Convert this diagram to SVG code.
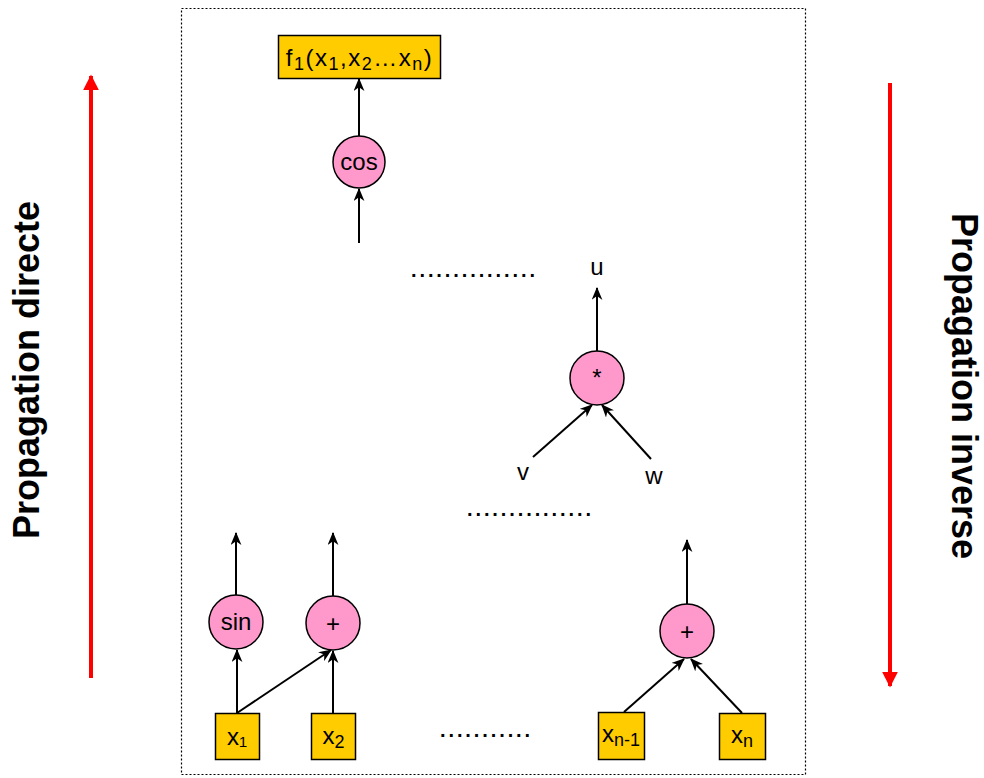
<svg xmlns="http://www.w3.org/2000/svg" width="984" height="778" viewBox="0 0 984 778">
<style>
.box{fill:#FFCC00;stroke:#000;stroke-width:1.5}
.op{fill:#FF99CC;stroke:#000;stroke-width:1.5}
.t{font-family:"Liberation Sans",Arial,sans-serif;font-size:24px;fill:#000}
.e{stroke:#000;stroke-width:2;fill:none;marker-end:url(#ah)}
.r{stroke:#FF0000;stroke-width:4;fill:none}
.dots{font-family:"Liberation Sans",Arial,sans-serif;font-size:20px;font-weight:bold;letter-spacing:2.9px;fill:#000}
.big{font-family:"Liberation Sans",Arial,sans-serif;font-size:36px;font-weight:bold;fill:#000}
</style>
<defs>
<marker id="ah" viewBox="0 0 12 10" refX="11" refY="5" markerWidth="13" markerHeight="11" orient="auto" markerUnits="userSpaceOnUse">
<path d="M0,0 L12,5 L0,10 L3.5,5 z" fill="#000"/>
</marker>
<marker id="rh" viewBox="0 0 10 10" refX="9" refY="5" markerWidth="4" markerHeight="4" orient="auto">
<path d="M0,0 L10,5 L0,10 z" fill="#FF0000"/>
</marker>
</defs>
<rect width="984" height="778" fill="#fff"/>
<rect id="frame" x="181.5" y="8.5" width="624" height="766" fill="none" stroke="#000" stroke-width="1.2" stroke-dasharray="2 2"/>

<g id="connectors">
<line class="e" x1="359" y1="136" x2="359" y2="79"/>
<line class="e" x1="359" y1="243" x2="359" y2="189"/>
<line class="e" x1="597" y1="351" x2="597" y2="288"/>
<line class="e" x1="533" y1="457" x2="592" y2="405"/>
<line class="e" x1="651" y1="459" x2="602" y2="405"/>
<line class="e" x1="236" y1="595" x2="236" y2="533"/>
<line class="e" x1="333" y1="596" x2="333" y2="533"/>
<line class="e" x1="237" y1="713" x2="237" y2="650"/>
<line class="e" x1="237" y1="713" x2="331" y2="650"/>
<line class="e" x1="333" y1="713" x2="333" y2="651"/>
<line class="e" x1="687" y1="604" x2="687" y2="540"/>
<line class="e" x1="624" y1="712" x2="684" y2="659"/>
<line class="e" x1="742" y1="713" x2="691" y2="659"/>
</g>

<g id="f1">
<rect class="box" x="278.5" y="35.5" width="162" height="43"/>
<text class="t" x="359.5" y="66" text-anchor="middle" font-size="26" letter-spacing="1.5">f<tspan font-size="18" dy="4">1</tspan><tspan dy="-4">(x</tspan><tspan font-size="18" dy="4">1</tspan><tspan dy="-4">,x</tspan><tspan font-size="18" dy="4">2</tspan><tspan dy="-4">…x</tspan><tspan font-size="18" dy="4">n</tspan><tspan dy="-4">)</tspan></text>
</g>
<g id="cos">
<circle class="op" cx="359" cy="162" r="26"/>
<text class="t" x="359" y="170" text-anchor="middle">cos</text>
</g>
<text class="dots" x="411" y="277">...............</text>
<g id="u"><text class="t" x="597" y="275" text-anchor="middle">u</text></g>
<g id="mul">
<circle class="op" cx="597" cy="378" r="27"/>
<text class="t" x="597" y="386" text-anchor="middle" font-size="18">*</text>
</g>
<g id="v"><text class="t" x="523" y="480" text-anchor="middle">v</text></g>
<g id="w"><text class="t" x="654" y="484" text-anchor="middle">w</text></g>
<text class="dots" x="467" y="516">...............</text>

<g id="sin">
<circle class="op" cx="236" cy="622" r="27"/>
<text class="t" x="236" y="630" text-anchor="middle">sin</text>
</g>
<g id="plus1">
<circle class="op" cx="333" cy="623" r="27"/>
<text class="t" x="333" y="632" text-anchor="middle">+</text>
</g>
<g id="x1">
<rect class="box" x="215.5" y="713.5" width="44" height="46"/>
<text class="t" x="237" y="745" text-anchor="middle">x₁</text>
</g>
<g id="x2">
<rect class="box" x="311.5" y="713.5" width="44" height="46"/>
<text class="t" x="333.5" y="744" text-anchor="middle">x<tspan font-size="18" dy="4">2</tspan></text>
</g>
<text class="dots" x="440" y="737">...........</text>
<g id="plus2">
<circle class="op" cx="687" cy="631" r="27"/>
<text class="t" x="687" y="640" text-anchor="middle">+</text>
</g>
<g id="xn1">
<rect class="box" x="598.5" y="712.5" width="46" height="47"/>
<text class="t" x="621" y="742" text-anchor="middle">x<tspan font-size="18" dy="4">n-1</tspan></text>
</g>
<g id="xn">
<rect class="box" x="719.5" y="713.5" width="46" height="46"/>
<text class="t" x="742" y="743" text-anchor="middle">x<tspan font-size="18" dy="4">n</tspan></text>
</g>

<g id="left-arrow">
<line class="r" x1="91" y1="678" x2="91" y2="76" marker-end="url(#rh)"/>
<text class="big" transform="translate(39,370) rotate(-90)" text-anchor="middle">Propagation directe</text>
</g>
<g id="right-arrow">
<line class="r" x1="890" y1="83" x2="890" y2="686" marker-end="url(#rh)"/>
<text class="big" transform="translate(952,386) rotate(90)" text-anchor="middle">Propagation inverse</text>
</g>
</svg>
